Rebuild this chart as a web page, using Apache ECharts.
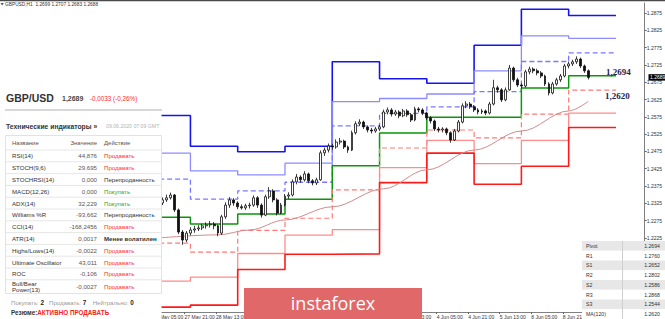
<!DOCTYPE html>
<html>
<head>
<meta charset="utf-8">
<title>GBP/USD H1</title>
<script src="https://cdn.jsdelivr.net/npm/echarts@6.0.0/dist/echarts.min.js"></script>
<style>
html,body{margin:0;padding:0;background:#ffffff;overflow:hidden;}
#chart{width:665px;height:319px;}
</style>
</head>
<body>
<div id="chart"></div>
<script>
// ---------- data ----------
const dayLabels = ['27 May','28 May','29 May','1 Jun','2 Jun','3 Jun','4 Jun','5 Jun','8 Jun','9 Jun'];
// daily pivot levels (one value per day)
const R3 = [1.2579,1.2490,1.2474,1.2490,1.2734,1.2685,1.2672,1.2782,1.2886,1.2868];
const R2 = [1.2470,1.2419,1.2407,1.2441,1.2619,1.2628,1.2641,1.2708,1.2809,1.2802];
const R1 = [1.2395,1.2337,1.2361,1.2386,1.2549,1.2585,1.2604,1.2648,1.2735,1.2760];
const PP = [1.2285,1.2265,1.2294,1.2337,1.2434,1.2528,1.2574,1.2574,1.2658,1.2694];
const S1 = [1.2210,1.2184,1.2247,1.2282,1.2364,1.2485,1.2537,1.2514,1.2583,1.2652];
const S2 = [1.2100,1.2112,1.2180,1.2233,1.2249,1.2428,1.2507,1.2440,1.2507,1.2586];
const S3 = [1.2025,1.2031,1.2134,1.2178,1.2179,1.2385,1.2470,1.2380,1.2432,1.2544];
// price bars [open, close, low, high]
const ohlc = [
[1.2318,1.2326,1.2310,1.2332],[1.2326,1.2335,1.2320,1.2342],[1.2335,1.2341,1.2329,1.2350],[1.2341,1.2349,1.2336,1.2356],
[1.2349,1.2306,1.2300,1.2352],[1.2306,1.2242,1.2236,1.2310],[1.2242,1.2219,1.2205,1.2248],[1.2219,1.2239,1.2213,1.2245],
[1.2239,1.2248,1.2232,1.2256],[1.2248,1.2251,1.2240,1.2260],[1.2251,1.2254,1.2245,1.2262],[1.2254,1.2260,1.2248,1.2266],
[1.2260,1.2263,1.2252,1.2270],[1.2263,1.2265,1.2255,1.2274],[1.2265,1.2260,1.2250,1.2271],[1.2260,1.2239,1.2230,1.2264],
[1.2239,1.2286,1.2234,1.2292],[1.2286,1.2320,1.2280,1.2328],[1.2320,1.2335,1.2312,1.2343],[1.2335,1.2326,1.2318,1.2340],
[1.2326,1.2315,1.2308,1.2331],[1.2315,1.2312,1.2307,1.2322],[1.2312,1.2318,1.2306,1.2324],[1.2318,1.2320,1.2310,1.2327],
[1.2320,1.2341,1.2315,1.2348],[1.2341,1.2320,1.2312,1.2346],[1.2320,1.2291,1.2284,1.2325],[1.2291,1.2344,1.2288,1.2350],
[1.2344,1.2361,1.2338,1.2372],[1.2361,1.2335,1.2328,1.2366],[1.2335,1.2297,1.2290,1.2340],[1.2297,1.2320,1.2294,1.2326],
[1.2320,1.2346,1.2316,1.2352],[1.2346,1.2349,1.2338,1.2357],[1.2349,1.2387,1.2345,1.2394],[1.2387,1.2401,1.2380,1.2410],
[1.2401,1.2393,1.2385,1.2406],[1.2393,1.2410,1.2388,1.2418],[1.2410,1.2390,1.2383,1.2414],[1.2390,1.2384,1.2377,1.2395],
[1.2384,1.2393,1.2378,1.2399],[1.2393,1.2471,1.2390,1.2478],[1.2471,1.2479,1.2462,1.2486],[1.2479,1.2491,1.2472,1.2498],
[1.2491,1.2488,1.2480,1.2497],[1.2488,1.2502,1.2483,1.2510],[1.2502,1.2505,1.2495,1.2514],[1.2505,1.2488,1.2482,1.2509],
[1.2488,1.2479,1.2471,1.2492],[1.2479,1.2529,1.2476,1.2535],[1.2529,1.2555,1.2524,1.2562],[1.2555,1.2560,1.2548,1.2568],
[1.2560,1.2546,1.2540,1.2564],[1.2546,1.2537,1.2530,1.2550],[1.2537,1.2534,1.2527,1.2543],[1.2534,1.2540,1.2529,1.2546],
[1.2540,1.2546,1.2534,1.2552],[1.2546,1.2589,1.2542,1.2596],[1.2589,1.2595,1.2582,1.2602],[1.2595,1.2583,1.2576,1.2600],
[1.2583,1.2589,1.2578,1.2595],[1.2589,1.2578,1.2571,1.2594],[1.2578,1.2592,1.2574,1.2598],[1.2592,1.2581,1.2575,1.2597],
[1.2581,1.2566,1.2560,1.2586],[1.2566,1.2598,1.2562,1.2604],[1.2598,1.2595,1.2588,1.2603],[1.2595,1.2586,1.2580,1.2600],
[1.2586,1.2572,1.2566,1.2590],[1.2572,1.2563,1.2556,1.2577],[1.2563,1.2540,1.2534,1.2567],[1.2540,1.2537,1.2530,1.2546],
[1.2537,1.2540,1.2530,1.2545],[1.2540,1.2529,1.2522,1.2544],[1.2529,1.2508,1.2500,1.2533],[1.2508,1.2534,1.2505,1.2540],
[1.2534,1.2560,1.2530,1.2566],[1.2560,1.2607,1.2556,1.2614],[1.2607,1.2612,1.2600,1.2620],[1.2612,1.2604,1.2598,1.2618],
[1.2604,1.2595,1.2589,1.2609],[1.2595,1.2589,1.2582,1.2600],[1.2589,1.2592,1.2583,1.2598],[1.2592,1.2586,1.2580,1.2596],
[1.2586,1.2612,1.2582,1.2618],[1.2612,1.2659,1.2608,1.2682],[1.2659,1.2653,1.2645,1.2665],[1.2653,1.2624,1.2618,1.2658],
[1.2624,1.2653,1.2620,1.2660],[1.2653,1.2716,1.2650,1.2725],[1.2716,1.2682,1.2676,1.2720],[1.2682,1.2667,1.2661,1.2688],
[1.2667,1.2664,1.2657,1.2672],[1.2664,1.2705,1.2660,1.2711],[1.2705,1.2713,1.2698,1.2720],[1.2713,1.2708,1.2701,1.2718],
[1.2708,1.2702,1.2695,1.2714],[1.2702,1.2693,1.2687,1.2707],[1.2693,1.2670,1.2664,1.2697],[1.2670,1.2644,1.2637,1.2675],
[1.2644,1.2670,1.2640,1.2676],[1.2670,1.2682,1.2665,1.2688],[1.2682,1.2693,1.2676,1.2699],[1.2693,1.2722,1.2689,1.2728],
[1.2722,1.2728,1.2715,1.2735],[1.2728,1.2734,1.2722,1.2740],[1.2734,1.2742,1.2728,1.2750],[1.2742,1.2722,1.2716,1.2746],
[1.2722,1.2708,1.2702,1.2726],[1.2708,1.2689,1.2683,1.2712]
];
// MA(120) read at selected bars
const maBars = [0, 15, 23, 32, 44, 57, 68, 80, 92, 104, 109];
const maVals = [1.2225, 1.2234, 1.2248, 1.2277, 1.2315, 1.2367, 1.2422, 1.2479, 1.2534, 1.2592, 1.2620];
// axis ticks (only those not hidden by the overlays)
const yTicks = [1.2225,1.2275,1.2325,1.2375,1.2425,1.2475,1.2525,1.2575,1.2625,1.2675,1.2725,1.2775,1.2825,1.2875];
const xTicks = [0,16,32,48,64,80,96,112,128,144,160,176,192,208];
// texts
const lastBarQuote = ['1.2699','1.2707','1.2683','1.2688'];
const quotePrice = '1,2689';
const quoteChange = '-0,0033 (-0,26%)';
const indNames = ['RSI(14)','STOCH(9,6)','STOCHRSI(14)','MACD(12,26)','ADX(14)','Williams %R','CCI(14)','ATR(14)','Highs/Lows(14)','Ultimate Oscillator','ROC','Bull/Bear\nPower(13)'];
const indValues = ['44,876','29,695','0,000','0,000','32,229','-93,662','-168,2456','0,0017','-0,0022','43,011','-0,106','-0,0027'];
const indActions = ['Продавать','Продавать','Перепроданность','Покупать','Покупать','Перепроданность','Продавать','Менее волатилен','Продавать','Продавать','Продавать','Продавать'];
const summaryCounts = [['Покупать:', '2'], ['Продавать:', '7'], ['Нейтрально:', '0']];
const pivotLabels = ['Pivot','R1','S1','R2','S2','R3','S3','MA(120)'];

// ---------- time mapping (hours since 27 May 05:00, weekends removed) ----------
const firstBarHour = 3, barHours = 2, dayStartOffset = -5;
function levelData(arr) {
  const d = arr.map((v, k) => [24 * k + dayStartOffset, v]);
  d.push([24 * arr.length + dayStartOffset, arr[arr.length - 1]]);
  return d;
}
function lvl(name, arr, color, width, type) {
  return { type: 'line', name: name, data: levelData(arr), step: 'end', symbol: 'none',
    lineStyle: { color: color, width: width, type: type || 'solid' }, z: 2, silent: true };
}

const SANS = "'Liberation Sans', Arial, sans-serif";
const chart = echarts.init(document.getElementById('chart'), null, { renderer: 'svg' });

const option = {
  animation: false,
  backgroundColor: '#ffffff',
  textStyle: { fontFamily: SANS },
  grid: { left: 153, right: 17, top: 3, bottom: 7, containLabel: false },
  xAxis: {
    type: 'value', min: 0, max: 249.6,
    axisLine: { show: true, onZero: false, lineStyle: { color: '#808080', width: 1 } },
    axisTick: { show: true, length: 2, customValues: xTicks, lineStyle: { color: '#666' } },
    splitLine: { show: false },
    axisLabel: {
      customValues: xTicks, fontSize: 5, color: '#333', margin: 2, align: 'left',
      formatter: function (v) {
        const h = v - dayStartOffset; const d = Math.floor(h / 24); const hr = h % 24;
        return (dayLabels[d] || '') + ' ' + (hr < 10 ? '0' : '') + hr + ':00';
      }
    }
  },
  yAxis: {
    type: 'value', position: 'right', min: 1.2011, max: 1.2904, scale: true,
    axisLine: { show: true, onZero: false, lineStyle: { color: '#808080', width: 1 } },
    axisTick: { show: true, length: 2, customValues: yTicks, lineStyle: { color: '#666' } },
    splitLine: { show: false },
    axisLabel: { customValues: yTicks, fontSize: 5, color: '#333', margin: 2, formatter: v => v.toFixed(4) }
  },
  series: [
    lvl('R3', R3, '#1414f0', 1.6),
    lvl('R2', R2, '#8c8cff', 1.3),
    lvl('R1', R1, '#7878ff', 1.3, [5, 3]),
    lvl('Pivot', PP, '#0a960a', 1.5),
    lvl('S1', S1, '#ff7a7a', 1.2, [5, 3]),
    lvl('S2', S2, '#ff8c8c', 1.3),
    lvl('S3', S3, '#ff1a1a', 1.6),
    { type: 'line', name: 'MA(120)', data: maBars.map((b, i) => [firstBarHour + barHours * b, maVals[i]]),
      smooth: 0.35, smoothMonotone: 'x', symbol: 'none', lineStyle: { color: '#d08c8c', width: 1 }, z: 2, silent: true },
    { type: 'candlestick', name: 'GBPUSD',
      data: ohlc.map((d, i) => [firstBarHour + barHours * i, d[0], d[1], d[2], d[3]]),
      barWidth: 2.4,
      itemStyle: { color: '#ffffff', color0: '#111111', borderColor: '#111111', borderColor0: '#111111', borderWidth: 0.8 },
      z: 3, silent: true }
  ]
};
chart.setOption(option);

// ---------- overlays ----------
function rect(x, y, w, h, fill, z, stroke) {
  return { type: 'rect', z: z || 100, silent: true, shape: { x: x, y: y, width: w, height: h },
    style: { fill: fill, stroke: stroke || null, lineWidth: stroke ? 1 : 0 } };
}
function line(x1, y1, x2, y2, color, z) {
  return { type: 'line', z: z || 105, silent: true, shape: { x1: x1, y1: y1, x2: x2, y2: y2 }, style: { stroke: color, lineWidth: 1 } };
}
function txt(x, y, text, size, color, extra) {
  return { type: 'text', x: x, y: y, z: 120, silent: true,
    style: Object.assign({ text: text, fontSize: size, fontFamily: SANS, fill: color, align: 'left', verticalAlign: 'middle' }, extra || {}) };
}
const yPx = v => chart.convertToPixel({ gridIndex: 0 }, [0, v])[1];

const G = [];
// top border + MT4 header
G.push(rect(0, 0, 665, 1.2, '#4a4a4a', 110));
G.push({ type: 'polygon', z: 110, silent: true, shape: { points: [[0.5, 3], [3.8, 3], [2.15, 5.6]] }, style: { fill: '#555' } });
G.push(txt(5, 4.5, 'GBPUSD,H1  ' + lastBarQuote.join(' '), 4.8, '#333'));

// left panel
G.push(rect(0, 84, 161.5, 235, '#ffffff', 100));
G.push(txt(6, 97.5, 'GBP/USD', 10.5, '#333', { fontWeight: 'bold' }));
G.push(txt(62, 98, quotePrice, 7, '#484848', { fontWeight: 'bold' }));
G.push(txt(90, 98, quoteChange, 6.3, '#ff2b2b'));
G.push(rect(5, 109, 157, 2, '#d8d8d8', 101));
G.push(txt(6, 126, 'Технические индикаторы »', 6.8, '#333', { fontWeight: 'bold' }));
G.push(txt(106, 126, '09.06.2020 07:09 GMT', 5.2, '#b4b4b4'));
// table
G.push({ type: 'rect', z: 102, silent: true, shape: { x: 5.5, y: 135.5, width: 156, height: 158 },
  style: { fill: 'none', stroke: '#e2e2e2', lineWidth: 1 } });
G.push(txt(12, 142.7, 'Название', 6, '#555'));
G.push(txt(97, 142.7, 'Значение', 6, '#555', { align: 'right' }));
G.push(txt(104, 142.7, 'Действие', 6, '#555'));
const rowPitch = 11.8, rowTop = 150;
for (let k = 0; k <= 11; k++) {
  const yy = rowTop + rowPitch * k;
  G.push(line(5.5, yy, 161.5, yy, '#e6e6e6', 103));
}
indNames.forEach((n, k) => {
  const last = k === indNames.length - 1;
  const cy = last ? 286.7 : rowTop + rowPitch * k + rowPitch / 2;
  const act = indActions[k];
  const col = act === 'Продавать' ? '#ff2d2d' : (act === 'Покупать' ? '#2ea82e' : '#333');
  G.push(txt(12, cy, n, 6.1, '#333', last ? { lineHeight: 6.2 } : {}));
  G.push(txt(97, cy, indValues[k], 6.1, '#555', { align: 'right' }));
  G.push(txt(104, cy, act, 6.1, col, act === 'Менее волатилен' ? { fontWeight: 'bold' } : {}));
});
// summary
const sumX = [11, 49, 92.7];
summaryCounts.forEach((c, i) => {
  G.push(txt(sumX[i], 302.7, '{a|' + c[0] + '} {b|' + c[1] + '}', 6.1, '#999',
    { rich: { a: { fontSize: 6.1, fill: '#9a9a9a', fontFamily: SANS }, b: { fontSize: 6.3, fill: '#222', fontWeight: 'bold', fontFamily: SANS } } }));
});
G.push(txt(11, 312, '{a|Резюме:}{b|АКТИВНО ПРОДАВАТЬ}', 6.3, '#333',
  { rich: { a: { fontSize: 6.3, fill: '#333', fontWeight: 'bold', fontFamily: SANS }, b: { fontSize: 6.3, fill: '#ff2020', fontWeight: 'bold', fontFamily: SANS } } }));

// pivot table bottom-right
const pivotValues = [PP[9], R1[9], S1[9], R2[9], S2[9], R3[9], S3[9], maVals[maVals.length - 1]];
const pRowH = 9.75, pTop = 241;
pivotLabels.forEach((lab, r) => {
  const y0 = pTop + pRowH * r;
  G.push(rect(582, y0, 83, pRowH, r % 2 === 0 ? '#e7e7e7' : '#ffffff', 100));
  G.push(txt(586, y0 + pRowH / 2, lab, 5.2, '#333'));
  G.push(txt(660, y0 + pRowH / 2, pivotValues[r].toFixed(4), 5.2, '#333', { align: 'right' }));
});
G.push(line(622.5, pTop, 622.5, 319, '#cfcfcf', 104));

// current price box on the price scale
const lastClose = ohlc[ohlc.length - 1][1];
const lp = yPx(lastClose);
G.push(rect(648.5, lp - 3.2, 16.5, 6.4, '#000000', 110));
G.push(txt(650, lp, lastClose.toFixed(4), 5, '#ffffff'));

// analyst annotations
const SERIF = "'Liberation Serif', 'Times New Roman', serif";
G.push(txt(606, yPx(PP[9]) - 3.7, PP[9].toFixed(4).replace('.', ','), 9, '#1d2352', { fontWeight: 'bold', fontFamily: SERIF }));
G.push(txt(605, yPx(maVals[maVals.length - 1]) - 5.3, maVals[maVals.length - 1].toFixed(4).replace('.', ','), 9, '#1d2352', { fontWeight: 'bold', fontFamily: SERIF }));

// instaforex logo
G.push(rect(244, 288, 178, 31, '#e06868', 100));
G.push(txt(333, 303, 'instaforex', 18, '#ffffff', { align: 'center', fontFamily: "'Open Sans', 'Noto Sans', sans-serif" }));

chart.setOption({ graphic: { elements: G } });
</script>
</body>
</html>
